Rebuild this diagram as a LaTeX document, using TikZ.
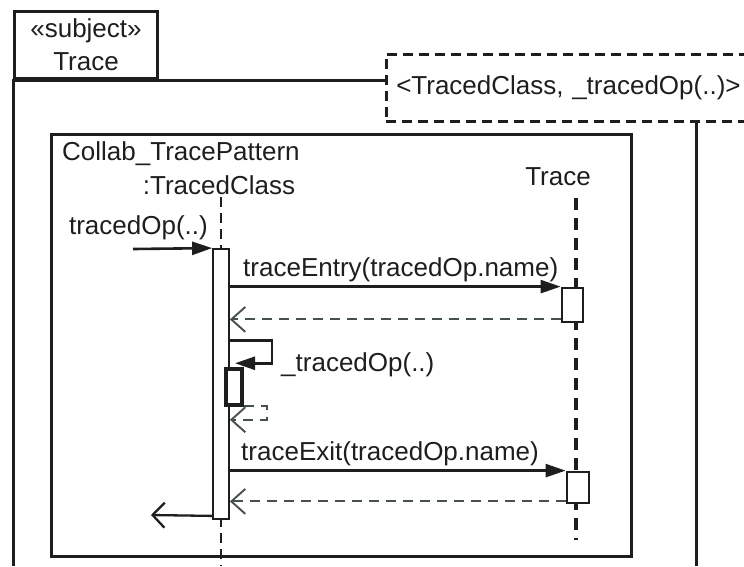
\documentclass[tikz,border=0pt]{standalone}
\usepackage{fontspec}
\setmainfont{Liberation Sans}
\usepackage{tikz}
\usetikzlibrary{arrows.meta}
\usetikzlibrary{shapes,backgrounds}

\definecolor{inkgray}{RGB}{30,30,30}
\definecolor{retgray}{RGB}{70,80,78}

\tikzset{
  frm/.style={draw=inkgray, line width=3pt},
  actbox/.style={draw=inkgray, line width=1.8pt, fill=white, inner sep=0pt, minimum width=16pt},
  msg/.style={draw=inkgray, line width=2.6pt, -{Triangle[length=20pt,width=13pt]}},
  ret/.style={draw=retgray, line width=1.9pt, dash pattern=on 10pt off 7pt, -{Straight Barb[length=14pt,width=25pt]}},
  reply/.style={draw=inkgray, line width=2.3pt, -{Straight Barb[length=12pt,width=25pt]}},
  life/.style={draw=inkgray, line width=1.6pt, dash pattern=on 10pt off 6pt},
  lbl/.style={inner sep=0pt, anchor=base west}
}

\begin{document}
\begin{tikzpicture}[x=1pt,y=-1pt,font=\fontsize{26}{33}\selectfont,text=inkgray]
\useasboundingbox (0,0) rectangle (744,566);

% the subject frame and its tab
\node[frm, anchor=north west, minimum width=143pt, minimum height=67pt, align=center, inner sep=0pt] (subj) at (13,10) {«subject»\\Trace};
\node[draw=inkgray, line width=2.5pt, dash pattern=on 10pt off 6pt, anchor=north west,
      minimum height=67pt, text width=360pt, inner xsep=10pt, inner ysep=0pt, align=left] (tmpl) at (385,53) {<TracedClass, \_tracedOp(..)>};
\coordinate (framebl) at (13,566);
\coordinate (framebr) at (696,566);
\draw[frm] (framebl) -- (subj.south west) -- (subj.south west -| tmpl.west);
\draw[frm] (tmpl.south -| framebr) -- (framebr);

% the collaboration
\node[frm, anchor=north west, minimum width=580pt, minimum height=422pt, inner sep=0pt] (collab) at (50,133) {};
\node[lbl] (collabname) at ([xshift=12pt,yshift=-27pt]collab.north west) {Collab\_TracePattern};

% lifelines
\node[inner xsep=0pt, inner ysep=3pt, anchor=base] (tc) at (219,194) {:TracedClass};
\node[inner xsep=0pt, inner ysep=13pt, anchor=base] (tr) at (558,185) {Trace};
\coordinate (tcend) at (221,566);
\coordinate (trend) at (576,540);
\draw[life] (tc.south -| tcend) -- (tcend);
\draw[life, line width=3.5pt, dash pattern=on 12pt off 8pt] (tr.south -| trend) -- (trend);

% activations
\node[actbox, minimum height=270pt] (act1) at (221,384) {};
\node[actbox, line width=2.8pt, minimum width=21pt, minimum height=34pt] (act2) at (572.5,305) {};
\node[actbox, line width=2.8pt, minimum width=22pt, minimum height=31pt] (act3) at (578,487.5) {};
\node[actbox, line width=3.5pt, minimum height=36pt] (actn) at (234,387) {};

% incoming call
\coordinate (found) at (133,249);
\draw[msg] (found) -- (act1.north west) node[lbl, anchor=base east, pos=1, xshift=-3pt, yshift=14pt] (lopin) {tracedOp(..)};

% traceEntry and its return
\draw[msg] (act2.north west -| act1.east) -- (act2.north west) node[lbl, pos=0, xshift=12pt, yshift=10pt] (lentry) {traceEntry(tracedOp.name)};
\coordinate (r1) at ([yshift=4pt]act2.south west);
\draw[ret] (r1) -- (r1 -| act1.east);

% call to self
\coordinate (s0) at ([yshift=27pt]actn.north);
\draw[msg] (s0 -| act1.east) -- ++(42,0) |- ([xshift=1pt,yshift=4pt]actn.north);
\node[lbl] (lself) at (281,371) {\_tracedOp(..)};
\coordinate (r2) at ([yshift=-13pt]actn.south);
\draw[ret] ([yshift=1pt]actn.south east) -- ++(23,0) |- (r2 -| act1.east);

% traceExit and its return
\draw[msg] (act3.north west -| act1.east) -- (act3.north west) node[lbl, pos=0, xshift=10pt, yshift=10pt] (lexit) {traceExit(tracedOp.name)};
\coordinate (r3) at ([yshift=3pt]act3.south west);
\draw[ret] (r3) -- (r3 -| act1.east);

% reply back to the caller
\coordinate (r4) at ([yshift=4pt]act1.south west);
\coordinate (back) at (151,515);
\draw[reply] (r4) -- (back);
\end{tikzpicture}
\end{document}
